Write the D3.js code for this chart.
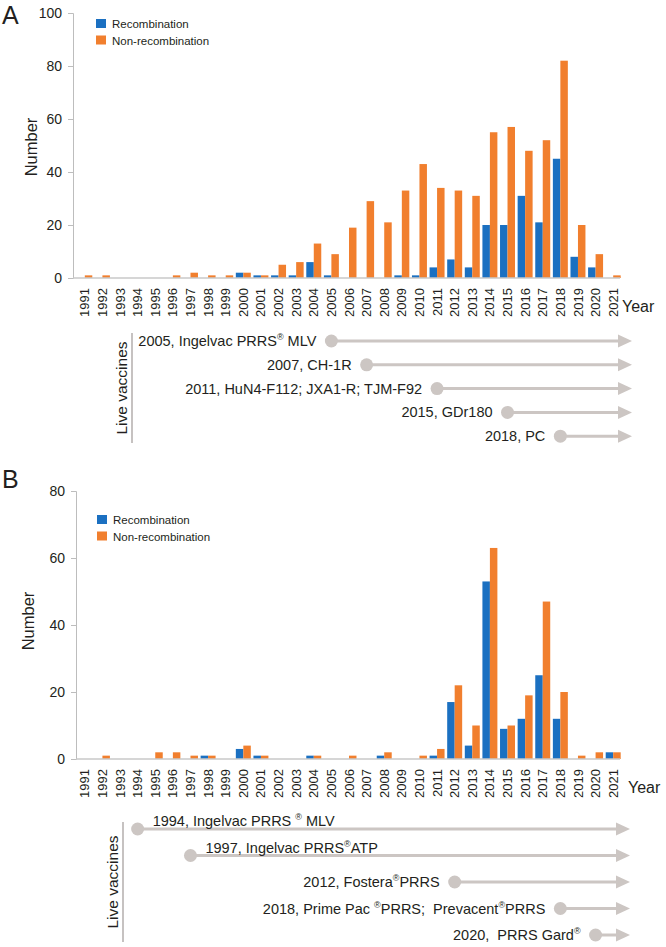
<!DOCTYPE html>
<html lang="en">
<head>
    <meta charset="UTF-8">
    <title>PRRSV recombination by year</title>
    <script src="https://d3js.org/d3.v7.min.js"></script>
    <style>
        body {
            margin: 0;
            background-color: #fff;
            font-family: "Liberation Sans", Arial, sans-serif;
        }
        svg text {
            fill: #231f20;
        }
    </style>
</head>
<body>
    <svg id="chart" width="666" height="947"></svg>

    <script>
        // years on the x axis (same for both panels)
        const years = d3.range(1991, 2022).map(String);

        // panel A counts
        const recA = [0, 0, 0, 0, 0, 0, 0, 0, 0, 2, 1, 1, 1, 6, 1, 0, 0, 0, 1, 1, 4, 7, 4, 20, 20, 31, 21, 45, 8, 4, 0];
        const nonRecA = [1, 1, 0, 0, 0, 1, 2, 1, 1, 2, 1, 5, 6, 13, 9, 19, 29, 21, 33, 43, 34, 33, 31, 55, 57, 48, 52, 82, 20, 9, 1];
        const yTicksA = [0, 20, 40, 60, 80, 100];
        const vaccineYearsA = [2005, 2007, 2011, 2015, 2018];
        const vaccineNamesA = ["Ingelvac PRRS® MLV", "CH-1R", "HuN4-F112; JXA1-R; TJM-F92", "GDr180", "PC"];

        // panel B counts
        const recB = [0, 0, 0, 0, 0, 0, 0, 1, 0, 3, 1, 0, 0, 1, 0, 0, 0, 1, 0, 0, 1, 17, 4, 53, 9, 12, 25, 12, 0, 0, 2];
        const nonRecB = [0, 1, 0, 0, 2, 2, 1, 1, 0, 4, 1, 0, 0, 1, 0, 1, 0, 2, 0, 1, 3, 22, 10, 63, 10, 19, 47, 20, 1, 2, 2];
        const yTicksB = [0, 20, 40, 60, 80];
        const vaccineYearsB = [1994, 1997, 2012, 2018, 2020];
        const vaccineNamesB = ["Ingelvac PRRS ® MLV", "Ingelvac PRRS®ATP", "Fostera®PRRS", "Prime Pac ®PRRS;  Prevacent®PRRS", " PRRS Gard®"];

        const seriesNames = ["Recombination", "Non-recombination"];
        const colors = ["#1b70c1", "#f17f2e"];
        const grey = "#ccc6c3";

        const svg = d3.select("#chart");

        function drawPanel(p) {
            const g = svg.append("g");

            const x = d3.scaleBand().domain(years).range([76, 622]).paddingInner(0.15).paddingOuter(0.075);
            const xs = d3.scaleBand().domain(seriesNames).range([0, x.bandwidth()]);
            const y = d3.scaleLinear().domain([0, p.yMax]).range([p.y0, p.yTop]);

            // panel letter
            g.append("text").attr("x", 2).attr("y", p.letterY)
                .style("font-size", "25px").text(p.letter);

            // bars
            const rows = years.map((yr, i) => ({ year: yr, values: [p.rec[i], p.nonRec[i]] }));
            g.selectAll(".grp").data(rows).enter().append("g")
                .attr("transform", d => `translate(${x(d.year)},0)`)
                .selectAll("rect")
                .data(d => d.values.map((v, k) => ({ k, v })))
                .enter().append("rect")
                .attr("x", d => xs(seriesNames[d.k]))
                .attr("width", xs.bandwidth())
                .attr("y", d => y(d.v))
                .attr("height", d => p.y0 - y(d.v))
                .attr("fill", d => colors[d.k]);

            // y axis
            const yAxis = g.append("g").attr("transform", `translate(${p.axisX},0)`)
                .call(d3.axisLeft(y).tickValues(p.yTicks).tickSize(5).tickPadding(6));
            yAxis.select(".domain").attr("stroke", "#bdbdbd");
            yAxis.selectAll(".tick line").attr("stroke", "#bdbdbd");
            yAxis.selectAll(".tick text").style("font-size", "14px")
                .style("font-family", "'Liberation Sans', Arial, sans-serif");

            // x axis
            g.append("line").attr("x1", p.axisX).attr("x2", 620)
                .attr("y1", p.y0).attr("y2", p.y0).attr("stroke", "#c8c8c8").attr("stroke-width", 1.5);
            const xAxis = g.append("g").attr("transform", `translate(0,${p.y0})`)
                .call(d3.axisBottom(x).tickSize(0));
            xAxis.select(".domain").remove();
            xAxis.selectAll(".tick text")
                .attr("transform", "rotate(-90)")
                .attr("x", -10).attr("y", 0).attr("dy", "0.35em")
                .style("text-anchor", "end")
                .style("font-size", "13px")
                .style("font-family", "'Liberation Sans', Arial, sans-serif");

            g.append("text").attr("x", p.yearX).attr("y", p.yearY)
                .style("font-size", "16px").text("Year");

            // y title
            g.append("text")
                .attr("transform", `translate(${p.numX},${p.numY}) rotate(-90)`)
                .attr("text-anchor", "middle")
                .style("font-size", "16.5px").text("Number");

            // legend
            seriesNames.forEach((s, k) => {
                g.append("rect").attr("x", p.legX).attr("y", p.legY + k * 16.5)
                    .attr("width", 10).attr("height", 9).attr("fill", colors[k]);
                g.append("text").attr("x", p.legX + 16).attr("y", p.legY + k * 16.5 + 9)
                    .style("font-size", "11.5px").text(s);
            });

            // live vaccines timeline
            g.append("line").attr("x1", p.vLineX).attr("x2", p.vLineX)
                .attr("y1", p.vLineTop).attr("y2", p.vLineBottom)
                .attr("stroke", "#b3aeac").attr("stroke-width", 1.5);
            g.append("text")
                .attr("transform", `translate(${p.vLineX - 5},${(p.vLineTop + p.vLineBottom) / 2}) rotate(-90)`)
                .attr("text-anchor", "middle")
                .style("font-size", "15.5px").text("Live vaccines");

            const xc = yr => x(String(yr)) + x.bandwidth() / 2;
            p.vYears.forEach((yr, i) => {
                const cy = p.rowTop + i * p.rowGap;
                const cx = xc(yr);
                g.append("line").attr("x1", cx).attr("x2", p.arrowEnd - 10)
                    .attr("y1", cy).attr("y2", cy)
                    .attr("stroke", grey).attr("stroke-width", 3);
                g.append("path")
                    .attr("d", `M${p.arrowEnd - 14},${cy - 6.5}L${p.arrowEnd},${cy}L${p.arrowEnd - 14},${cy + 6.5}Z`)
                    .attr("fill", grey);
                g.append("circle").attr("cx", cx).attr("cy", cy).attr("r", 6.5).attr("fill", grey);

                const right = p.labelSide[i] === "right";
                const t = g.append("text")
                    .attr("x", right ? cx + 15 : cx - 15)
                    .attr("y", right ? cy - 3 : cy + 5)
                    .attr("text-anchor", right ? "start" : "end")
                    .attr("xml:space", "preserve")
                    .style("white-space", "pre")
                    .style("font-size", "14.5px");
                // split on the registered mark so it can be drawn raised and small
                const parts = (yr + ", " + p.vNames[i]).split("®");
                parts.forEach((part, j) => {
                    if (j > 0) {
                        t.append("tspan").attr("dy", -6).style("font-size", "9px").text("®");
                        if (part.length) t.append("tspan").attr("dy", 6).text(part);
                    } else {
                        t.append("tspan").text(part);
                    }
                });
            });
        }

        drawPanel({
            letter: "A", letterY: 24,
            rec: recA, nonRec: nonRecA, yMax: 100, yTicks: yTicksA,
            y0: 278, yTop: 13, axisX: 73,
            yearX: 622, yearY: 312,
            numX: 37, numY: 147,
            legX: 96, legY: 19,
            vLineX: 132, vLineTop: 333, vLineBottom: 443,
            vYears: vaccineYearsA, vNames: vaccineNamesA,
            rowTop: 341, rowGap: 23.8, arrowEnd: 632,
            labelSide: ["left", "left", "left", "left", "left"]
        });

        drawPanel({
            letter: "B", letterY: 488,
            rec: recB, nonRec: nonRecB, yMax: 80, yTicks: yTicksB,
            y0: 759, yTop: 491, axisX: 76,
            yearX: 628, yearY: 793,
            numX: 34, numY: 621,
            legX: 97, legY: 515,
            vLineX: 123, vLineTop: 822, vLineBottom: 942,
            vYears: vaccineYearsB, vNames: vaccineNamesB,
            rowTop: 829, rowGap: 26.5, arrowEnd: 630,
            labelSide: ["right", "right", "left", "left", "left"]
        });
    </script>
</body>
</html>
